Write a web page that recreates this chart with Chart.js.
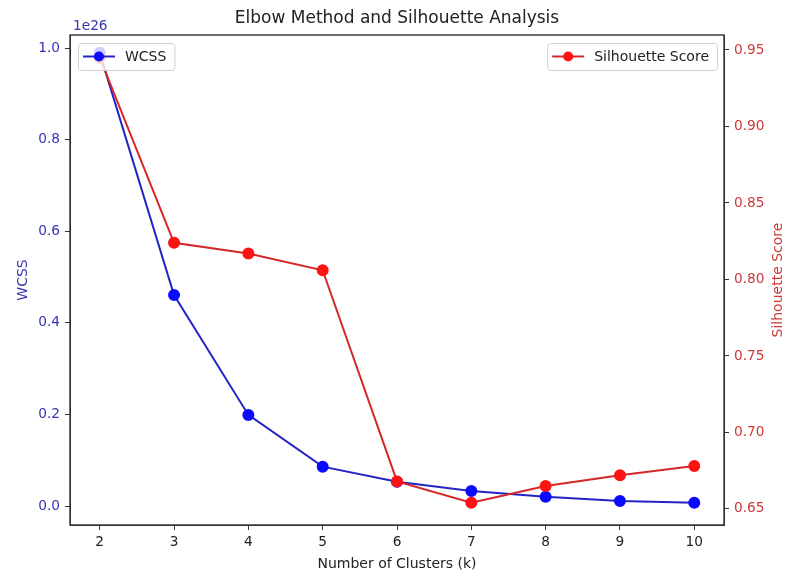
<!DOCTYPE html>
<html>
<head>
<meta charset="utf-8">
<script src="https://cdn.jsdelivr.net/npm/chart.js@4/dist/chart.umd.min.js"></script>
<style>
  html, body { margin: 0; padding: 0; background: #fff; }
  #wrap { width: 786px; height: 571px; }
</style>
</head>
<body>
<div id="wrap"><canvas id="chart"></canvas></div>
<script>
const ks = [2, 3, 4, 5, 6, 7, 8, 9, 10];
// WCSS in units of 1e26
const wcss = [0.99, 0.461, 0.199, 0.086, 0.053, 0.033, 0.02, 0.011, 0.007];
const silhouette = [0.945, 0.824, 0.817, 0.806, 0.668, 0.654, 0.665, 0.672, 0.678];
const wcssTicks = [0.0, 0.2, 0.4, 0.6, 0.8, 1.0];
const silTicks = [0.65, 0.70, 0.75, 0.80, 0.85, 0.90, 0.95];

const FONT = "'DejaVu Sans', sans-serif";
const BLUE_TXT = "#3636b4";
const RED_TXT = "#cc3a3a";
const AXIS = "#333";

// title, offset text, right axis label, frame, legends
const extras = {
  id: "extras",
  afterDraw(chart) {
    const { ctx, chartArea: a } = chart;
    ctx.save();

    ctx.strokeStyle = AXIS;
    ctx.lineWidth = 1.4;
    ctx.strokeRect(a.left, a.top, a.right - a.left, a.bottom - a.top);

    ctx.fillStyle = "#222";
    ctx.font = `17px ${FONT}`;
    ctx.textAlign = "center";
    ctx.textBaseline = "middle";
    ctx.fillText("Elbow Method and Silhouette Analysis", (a.left + a.right) / 2, 19);

    ctx.fillStyle = BLUE_TXT;
    ctx.font = `13.7px ${FONT}`;
    ctx.textAlign = "left";
    ctx.fillText("1e26", a.left + 3, 26);

    ctx.save();
    ctx.translate(778, (a.top + a.bottom) / 2);
    ctx.rotate(-Math.PI / 2);
    ctx.fillStyle = RED_TXT;
    ctx.font = `14px ${FONT}`;
    ctx.textAlign = "center";
    ctx.fillText("Silhouette Score", 0, 0);
    ctx.restore();

    // legends
    ctx.font = `14px ${FONT}`;
    const drawLegend = (ds, x, y, w) => {
      const h = 27;
      ctx.fillStyle = "rgba(255,255,255,0.8)";
      ctx.strokeStyle = "#d0d0d0";
      ctx.lineWidth = 1;
      ctx.beginPath();
      ctx.roundRect(x + 0.5, y + 0.5, w, h, 3);
      ctx.fill();
      ctx.stroke();
      const cy = y + h / 2;
      ctx.strokeStyle = ds.borderColor;
      ctx.lineWidth = 2;
      ctx.beginPath();
      ctx.moveTo(x + 5, cy);
      ctx.lineTo(x + 37, cy);
      ctx.stroke();
      ctx.fillStyle = ds.pointBackgroundColor;
      ctx.beginPath();
      ctx.arc(x + 21, cy, 5, 0, Math.PI * 2);
      ctx.fill();
      ctx.fillStyle = "#222";
      ctx.textAlign = "left";
      ctx.textBaseline = "middle";
      ctx.fillText(ds.label, x + 47, cy + 1);
    };
    const d0 = chart.data.datasets[0];
    const d1 = chart.data.datasets[1];
    const w0 = ctx.measureText(d0.label).width + 55;
    const w1 = ctx.measureText(d1.label).width + 55;
    drawLegend(d0, a.left + 8, 43, w0);
    drawLegend(d1, a.right - 7 - w1, 43, w1);

    ctx.restore();
  }
};

new Chart(document.getElementById("chart"), {
  type: "line",
  data: {
    datasets: [
      {
        label: "WCSS",
        data: ks.map((k, i) => ({ x: k, y: wcss[i] })),
        yAxisID: "y",
        borderColor: "#2424c4",
        pointBackgroundColor: "#0a0aff",
        pointBorderColor: "#0a0aff",
        borderWidth: 2,
        pointRadius: 5,
        pointHoverRadius: 5,
        tension: 0,
        order: 2
      },
      {
        label: "Silhouette Score",
        data: ks.map((k, i) => ({ x: k, y: silhouette[i] })),
        yAxisID: "y2",
        borderColor: "#d42828",
        pointBackgroundColor: "#ff1212",
        pointBorderColor: "#ff1212",
        borderWidth: 2,
        pointRadius: 5,
        pointHoverRadius: 5,
        tension: 0,
        order: 1
      }
    ]
  },
  options: {
    responsive: true,
    maintainAspectRatio: false,
    animation: false,
    layout: { padding: { top: 35, left: 0, right: 0, bottom: 0 } },
    plugins: {
      legend: { display: false },
      tooltip: { enabled: false }
    },
    scales: {
      x: {
        type: "linear",
        min: 1.6,
        max: 10.4,
        afterBuildTicks: (s) => { s.ticks = ks.map((v) => ({ value: v })); },
        afterFit: (s) => { s.height = 46; },
        ticks: {
          autoSkip: false,
          maxRotation: 0,
          padding: 4,
          color: "#222",
          font: { family: FONT, size: 13.7 },
          callback: (v) => String(v)
        },
        grid: { drawOnChartArea: false, tickLength: 5, color: AXIS },
        border: { color: AXIS },
        title: {
          display: true,
          text: "Number of Clusters (k)",
          color: "#222",
          padding: { top: 0, bottom: -2 },
          font: { family: FONT, size: 14 }
        }
      },
      y: {
        position: "left",
        min: -0.0415,
        max: 1.029,
        afterBuildTicks: (s) => { s.ticks = wcssTicks.map((v) => ({ value: v })); },
        afterFit: (s) => { s.width = 70; },
        ticks: {
          padding: 5,
          color: BLUE_TXT,
          font: { family: FONT, size: 13.7 },
          callback: (v) => v.toFixed(1)
        },
        grid: { drawOnChartArea: false, tickLength: 5, color: AXIS },
        border: { color: AXIS },
        title: {
          display: true,
          text: "WCSS",
          color: BLUE_TXT,
          padding: { top: 14.6, bottom: 0 },
          font: { family: FONT, size: 14 }
        }
      },
      y2: {
        position: "right",
        min: 0.6395,
        max: 0.9598,
        afterBuildTicks: (s) => { s.ticks = silTicks.map((v) => ({ value: v })); },
        afterFit: (s) => { s.width = 62; },
        ticks: {
          padding: 5,
          color: RED_TXT,
          font: { family: FONT, size: 13.7 },
          callback: (v) => v.toFixed(2)
        },
        grid: { drawOnChartArea: false, tickLength: 5, color: AXIS },
        border: { color: AXIS }
      }
    }
  },
  plugins: [extras]
});
</script>
</body>
</html>
